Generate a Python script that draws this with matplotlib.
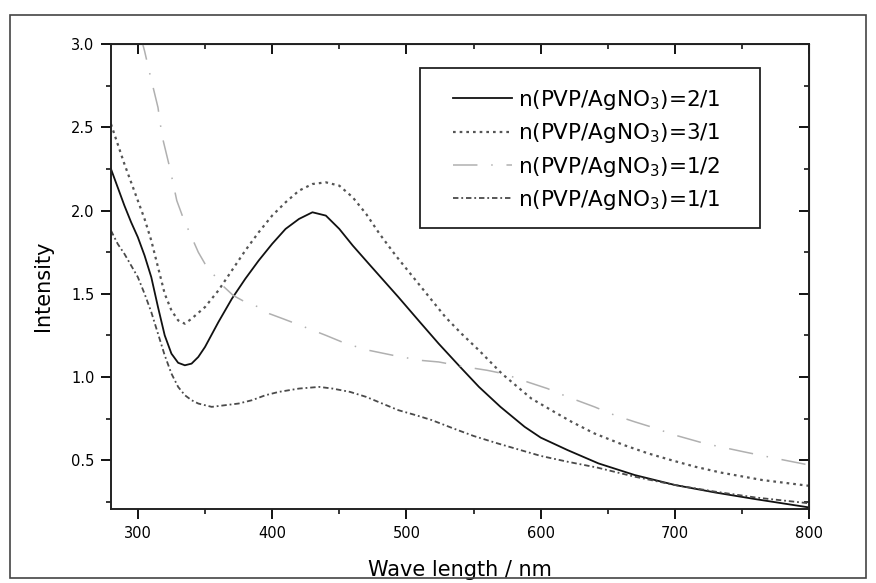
import matplotlib
matplotlib.use("Agg")
import matplotlib.pyplot as plt
from matplotlib.patches import Rectangle

# Values (wavelength in nm, intensity)
wl_2_1 = [280, 285, 290, 295, 300, 305, 310, 315, 320, 325, 330, 335, 340, 345,
          350, 360, 370, 380, 390, 400, 410, 420, 430, 440, 450, 460, 472, 483,
          494, 510, 524, 540, 554, 570, 588, 600, 620, 643, 670, 700, 730, 760, 800]
int_2_1 = [2.25, 2.14, 2.03, 1.93, 1.84, 1.73, 1.60, 1.42, 1.25, 1.14, 1.085, 1.07, 1.08, 1.12,
           1.18, 1.33, 1.47, 1.59, 1.70, 1.80, 1.89, 1.95, 1.99, 1.97, 1.89, 1.79, 1.68, 1.58,
           1.48, 1.33, 1.20, 1.06, 0.94, 0.82, 0.70, 0.635, 0.56, 0.48, 0.41, 0.35, 0.305, 0.265, 0.215]

wl_3_1 = [280, 285, 290, 295, 300, 305, 310, 315, 320, 325, 330, 335, 340, 350,
          360, 370, 380, 390, 400, 410, 420, 430, 440, 450, 460, 470, 480, 492,
          505, 517, 529, 541, 554, 571, 593, 610, 623, 640, 662, 680, 697, 715, 734, 765, 800]
int_3_1 = [2.52, 2.40, 2.28, 2.17, 2.06, 1.95, 1.82, 1.66, 1.50, 1.40, 1.34, 1.32, 1.35, 1.42,
           1.52, 1.64, 1.76, 1.87, 1.97, 2.05, 2.12, 2.16, 2.17, 2.15, 2.08, 1.98, 1.86, 1.73,
           1.60, 1.48, 1.36, 1.26, 1.16, 1.02, 0.87, 0.79, 0.73, 0.66, 0.59, 0.54, 0.50, 0.46, 0.425, 0.38, 0.345]

wl_1_2 = [302, 305, 309, 315, 318, 324, 329, 334, 339, 345, 350, 356, 363, 371,
          380, 390, 398, 408, 421, 440, 455, 472, 490, 510, 524, 544, 560, 572,
          590, 605, 620, 640, 655, 670, 682, 700, 722, 751, 775, 800]
int_1_2 = [3.05, 2.96, 2.82, 2.62, 2.45, 2.25, 2.06, 1.95, 1.86, 1.75, 1.68, 1.62, 1.55, 1.49,
           1.45, 1.42, 1.38, 1.35, 1.31, 1.25, 1.20, 1.16, 1.13, 1.10, 1.09, 1.06, 1.04, 1.02,
           0.97, 0.93, 0.88, 0.82, 0.77, 0.73, 0.70, 0.65, 0.60, 0.55, 0.51, 0.47]

wl_1_1 = [280, 285, 290, 295, 300, 305, 310, 315, 320, 325, 330, 335, 340, 345,
          355, 365, 375, 385, 395, 405, 420, 435, 445, 458, 470, 482, 494, 507,
          519, 535, 550, 568, 585, 600, 620, 642, 670, 700, 730, 760, 800]
int_1_1 = [1.88, 1.80, 1.74, 1.67, 1.60, 1.50, 1.39, 1.26, 1.13, 1.02, 0.94, 0.89, 0.86, 0.84,
           0.82, 0.83, 0.84, 0.86, 0.89, 0.91, 0.93, 0.94, 0.93, 0.91, 0.88, 0.84, 0.80, 0.77,
           0.74, 0.69, 0.645, 0.60, 0.56, 0.525, 0.49, 0.455, 0.40, 0.35, 0.31, 0.275, 0.24]

labels = ['n(PVP/AgNO$_3$)=2/1', 'n(PVP/AgNO$_3$)=3/1',
          'n(PVP/AgNO$_3$)=1/2', 'n(PVP/AgNO$_3$)=1/1']

plt.rcParams['font.family'] = ['DejaVu Sans']

fig = plt.figure(figsize=(8.76, 5.83), dpi=100)
ax = fig.add_axes([0.1267, 0.1264, 0.7972, 0.7976])

ax.plot(wl_2_1, int_2_1, color='#111111', lw=1.3, ls='-', label=labels[0])
ax.plot(wl_3_1, int_3_1, color='#555555', lw=1.6, ls=(0, (1.2, 1.8)), label=labels[1])
ax.plot(wl_1_2, int_1_2, color='#b0b0b0', lw=1.1, ls=(0, (16, 9, 1, 9)), label=labels[2])
ax.plot(wl_1_1, int_1_1, color='#4a4a4a', lw=1.3, ls=(0, (3, 1.6, 1, 1.6)), label=labels[3])

ax.set_xlim(280, 800)
ax.set_ylim(0.204, 3.0)
ax.set_xticks([300, 400, 500, 600, 700, 800])
ax.set_xticks(range(350, 800, 100), minor=True)
ax.set_yticks([0.5, 1.0, 1.5, 2.0, 2.5, 3.0])
ax.set_yticks([0.25, 0.75, 1.25, 1.75, 2.25, 2.75], minor=True)
ax.set_yticklabels(['0.5', '1.0', '1.5', '2.0', '2.5', '3.0'])

ax.tick_params(which='major', direction='out', length=7, width=1.3, labelsize=10.5, pad=5)
ax.tick_params(which='minor', direction='out', length=3.5, width=1.1)
for s in ax.spines.values():
    s.set_linewidth(1.4)
    s.set_color('#222222')

# mirrored ticks on top and right point inward
top = ax.secondary_xaxis('top')
top.set_xticks([300, 400, 500, 600, 700, 800])
top.set_xticks(range(350, 800, 100), minor=True)
top.tick_params(which='major', direction='in', length=7, width=1.3, labeltop=False)
top.tick_params(which='minor', direction='in', length=3.5, width=1.1)
right = ax.secondary_yaxis('right')
right.set_yticks([0.5, 1.0, 1.5, 2.0, 2.5, 3.0])
right.set_yticks([0.25, 0.75, 1.25, 1.75, 2.25, 2.75], minor=True)
right.tick_params(which='major', direction='in', length=7, width=1.3, labelright=False)
right.tick_params(which='minor', direction='in', length=3.5, width=1.1)

ax.set_xlabel('Wave length / nm', fontsize=15)
ax.set_ylabel('Intensity', fontsize=15)
ax.xaxis.set_label_coords(0.5, -0.108)
ax.yaxis.set_label_coords(-0.083, 0.48)

# legend without its own frame; box drawn separately to match the wide padding
leg = ax.legend(loc='upper left', bbox_to_anchor=(0.4898, 0.906), fontsize=15.5,
                frameon=False, handlelength=2.74, handletextpad=0.3,
                borderpad=0, labelspacing=0.43, borderaxespad=0)
ax.add_patch(Rectangle((0.4425, 0.605), 0.4869, 0.344, transform=ax.transAxes,
                       fill=False, edgecolor='#222222', linewidth=1.3, zorder=5))

fig.patches.append(Rectangle((10 / 876, 1 - 578 / 583), 856 / 876, 563 / 583,
                             transform=fig.transFigure, fill=False,
                             edgecolor='#444444', linewidth=1.2))

fig.savefig('out.png', dpi=100)
